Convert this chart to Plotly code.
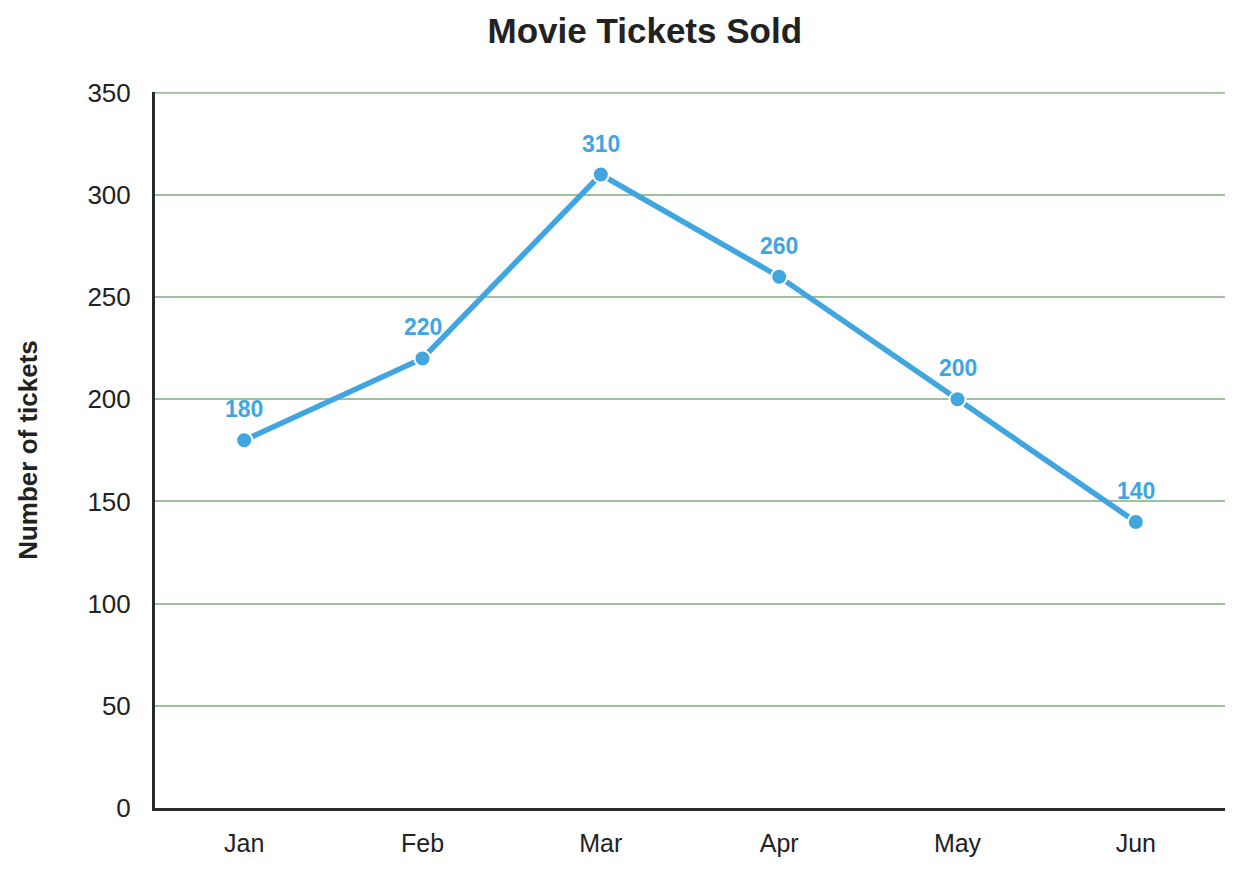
import plotly.graph_objects as go

months = ["Jan", "Feb", "Mar", "Apr", "May", "Jun"]
tickets = [180, 220, 310, 260, 200, 140]
y_ticks = [0, 50, 100, 150, 200, 250, 300, 350]

blue = "#41a6e0"
grid = "#9dc19d"
font_family = "Liberation Sans, Arial"

fig = go.Figure()
fig.add_trace(go.Scatter(
    x=months, y=tickets,
    mode="lines+markers",
    line=dict(color=blue, width=5.5),
    marker=dict(size=16, color=blue, line=dict(color="white", width=2)),
    cliponaxis=False,
    hoverinfo="x+y",
))

# value labels above each point
for m, v in zip(months, tickets):
    fig.add_annotation(
        x=m, y=v, text="<b>%d</b>" % v, showarrow=False,
        yshift=31, font=dict(family=font_family, size=23, color=blue),
    )

# plotly skips the grid line sitting on the top edge, draw it by hand
fig.add_hline(y=y_ticks[-1], line=dict(color=grid, width=2), layer="below")

# page body has an 8px margin, so the figure is a bit smaller than the window
fig.update_layout(
    width=1227, height=859,
    paper_bgcolor="white", plot_bgcolor="white",
    margin=dict(l=147, r=10, t=84, b=56),
    font=dict(family=font_family, color="#222222"),
    title=dict(text="<b>Movie Tickets Sold</b>", x=0.519, xanchor="center",
               y=0.974, yanchor="middle", font=dict(size=35, color="#222222")),
    showlegend=False,
)
fig.update_xaxes(
    type="category", range=[-0.5, 5.5],
    showline=True, linecolor="#2a2a2a", linewidth=3,
    showgrid=False, ticks="", tickfont=dict(size=25), ticklabelstandoff=11,
)
fig.update_yaxes(
    range=[0, 350.4], tickvals=y_ticks,
    showline=True, linecolor="#2a2a2a", linewidth=3,
    showgrid=True, gridcolor=grid, gridwidth=2,
    zeroline=False, ticks="", tickfont=dict(size=26), ticklabelstandoff=16,
    title=dict(text="<b>Number of tickets</b>", font=dict(size=26), standoff=43),
)

fig.write_html("out.html")
